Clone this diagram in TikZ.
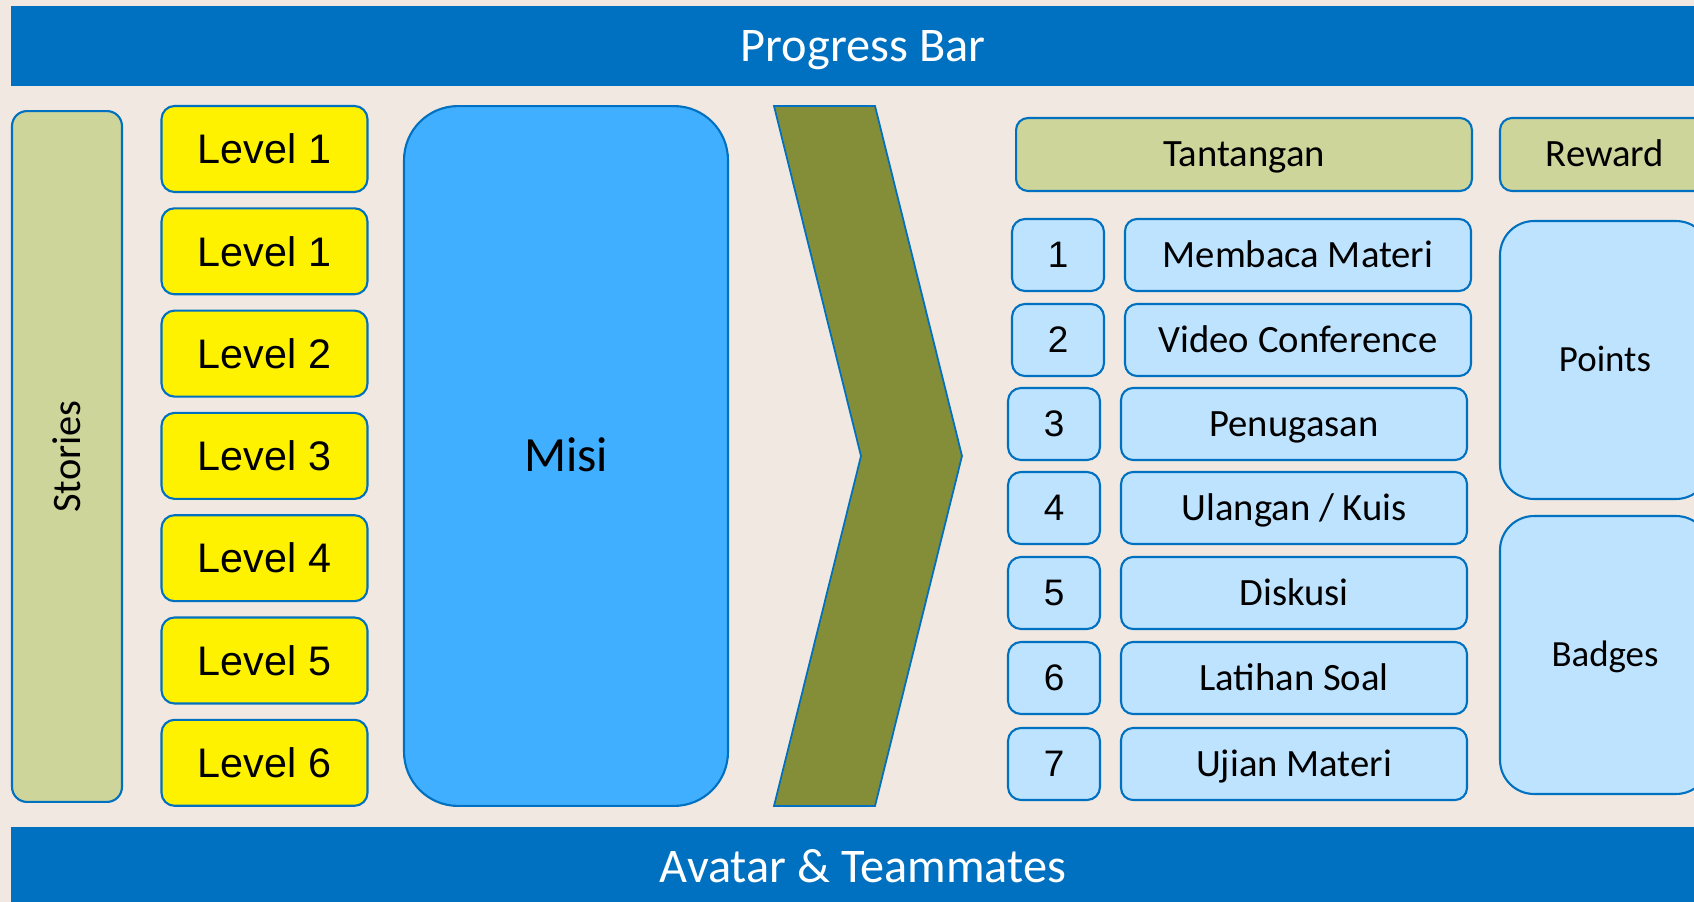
\documentclass[tikz,border=0pt]{standalone}
\usepackage{fontspec}
\setmainfont{Carlito}
\newfontfamily\arialfont{Liberation Sans}

\definecolor{slidebg}{HTML}{F1E9E1}
\definecolor{barblue}{HTML}{0070C0}
\definecolor{storygreen}{HTML}{CDD59A}
\definecolor{misiblue}{HTML}{40AFFF}
\definecolor{chevolive}{HTML}{848E38}
\definecolor{taskblue}{HTML}{BEE3FF}

\tikzset{
  capcentre/.style={text height=#1, text depth=0pt},
  bar/.style={fill=barblue, text=white, minimum width=34.08cm, minimum height=1.62cm,
    inner sep=0pt, capcentre=17.7pt, font=\fontsize{27.5}{32}\selectfont},
  rbox/.style={draw=barblue, line width=1.2pt, rounded corners=#1, inner sep=0pt, align=center},
  levelbox/.style={rbox=0.26cm, fill=yellow, minimum width=4.12cm, minimum height=1.72cm,
    font=\arialfont\fontsize{23.5}{28}\selectfont},
  numbox/.style={rbox=0.26cm, fill=taskblue, minimum width=1.84cm, minimum height=1.44cm,
    font=\arialfont\fontsize{21}{24}\selectfont},
  taskbox/.style={rbox=0.24cm, fill=taskblue, minimum width=6.92cm, minimum height=1.44cm,
    capcentre=14.2pt, font=\fontsize{22}{26}\selectfont},
  headbox/.style={rbox=0.24cm, fill=storygreen, minimum height=1.46cm,
    capcentre=14.2pt, font=\fontsize{22}{26}\selectfont},
  rewardbox/.style={rbox=0.68cm, fill=taskblue, minimum width=4.2cm, minimum height=5.56cm,
    capcentre=13.5pt, font=\fontsize{21}{25}\selectfont}
}

\begin{document}
\begin{tikzpicture}[x=0.02cm,y=0.02cm]

  \useasboundingbox (0,0) rectangle (1694,-902);
  \clip (0,0) rectangle (1694,-902);
  \fill[slidebg] (0,0) rectangle (1694,-902);

  % top and bottom bars
  \node[bar] (progress) at (863,-46) {Progress Bar};
  \node[bar] (avatar) at (863,-867) {Avatar \& Teammates};

  % stories and levels
  \node[rbox=0.3cm, fill=storygreen, rotate=90, minimum width=13.82cm, minimum height=2.2cm,
    capcentre=14.8pt, font=\fontsize{23}{27}\selectfont] (stories) at (67,-456.5) {Stories};

  \foreach \lab [count=\i] in {1,1,2,3,4,5,6}{
    \node[levelbox] (level\i) at (264.5,{-149-102.3*(\i-1)}) {Level \lab};
  }

  \node[rbox=1.08cm, fill=misiblue, minimum width=6.48cm, minimum height=14cm,
    capcentre=18pt, font=\fontsize{28}{32}\selectfont] (misi) at (566,-456) {Misi};

  % chevron
  \draw[barblue, fill=chevolive, line width=1pt]
    (774,-106) -- (875,-106) -- (962,-456) -- (875,-806) -- (774,-806) -- (861,-456) -- cycle;

  % tantangan
  \node[headbox, minimum width=9.12cm] (tantangan) at (1244,-154.5) {Tantangan};

  \foreach \n/\txt/\dx/\y in {1/Membaca Materi/4/255, 2/Video Conference/4/340,
      3/Penugasan/0/424, 4/{Ulangan / Kuis}/0/508, 5/Diskusi/0/593,
      6/Latihan Soal/0/678, 7/Ujian Materi/0/764}{
    \node[numbox] (num\n) at (1054+\dx,-\y) {\n};
    \node[taskbox] (task\n) at (1294+\dx,-\y) {\txt};
  }

  % reward
  \node[headbox, minimum width=4.2cm] (reward) at (1605,-154.5) {Reward};
  \node[rewardbox] (points) at (1605,-360) {Points};
  \node[rewardbox] (badges) at (1605,-655) {Badges};

\end{tikzpicture}
\end{document}
